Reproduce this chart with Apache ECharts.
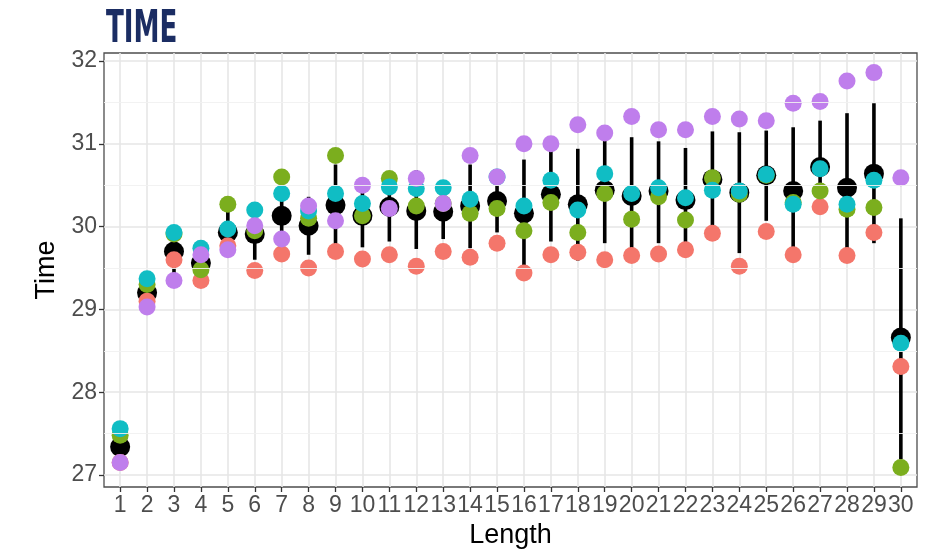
<!DOCTYPE html>
<html>
<head>
<meta charset="utf-8">
<script src="https://cdn.jsdelivr.net/npm/echarts@6/dist/echarts.min.js"></script>
<style>
  html, body { margin: 0; padding: 0; background: #ffffff; }
  #chart { width: 941px; height: 556px; }
</style>
</head>
<body>
<div id="chart"></div>
<script>
// Categories along the x axis (sequence length)
const lengths = [1, 2, 3, 4, 5, 6, 7, 8, 9, 10, 11, 12, 13, 14, 15,
                 16, 17, 18, 19, 20, 21, 22, 23, 24, 25, 26, 27, 28, 29, 30];

// Y axis tick positions
const yTicks = [27, 28, 29, 30, 31, 32];
const yMinorTicks = [27.5, 28.5, 29.5, 30.5, 31.5];

// Time per group
const timeRed = [27.15, 29.10, 29.60, 29.35, 29.77, 29.47, 29.67, 29.50, 29.70, 29.61,
                 29.66, 29.52, 29.70, 29.63, 29.80, 29.44, 29.66, 29.69, 29.60, 29.65,
                 29.67, 29.72, 29.92, 29.52, 29.94, 29.66, 30.24, 29.65, 29.93, 28.31];
const timeGreen = [27.48, 29.30, 29.91, 29.48, 30.27, 29.95, 30.60, 30.10, 30.86, 30.13,
                   30.58, 30.25, 30.28, 30.16, 30.22, 29.95, 30.29, 29.93, 30.40, 30.09,
                   30.36, 30.08, 30.59, 30.39, 30.62, 30.29, 30.43, 30.21, 30.23, 27.09];
const timeCyan = [27.56, 29.37, 29.93, 29.74, 29.97, 30.20, 30.40, 30.19, 30.40, 30.28,
                  30.48, 30.46, 30.47, 30.33, 30.60, 30.25, 30.56, 30.20, 30.64, 30.40,
                  30.47, 30.35, 30.44, 30.43, 30.63, 30.27, 30.70, 30.27, 30.56, 28.59];
const timePurple = [27.15, 29.03, 29.35, 29.66, 29.72, 30.01, 29.85, 30.25, 30.07, 30.50,
                    30.22, 30.58, 30.28, 30.86, 30.60, 31.00, 31.00, 31.23, 31.13, 31.33,
                    31.17, 31.17, 31.33, 31.30, 31.28, 31.49, 31.51, 31.76, 31.86, 30.59];

// Summary: mean with lower / upper bar ends
const timeMean = [27.34, 29.20, 29.70, 29.56, 29.93, 29.91, 30.13, 30.01, 30.26, 30.13,
                  30.24, 30.19, 30.18, 30.25, 30.31, 30.16, 30.39, 30.27, 30.44, 30.37,
                  30.43, 30.32, 30.57, 30.41, 30.62, 30.43, 30.72, 30.47, 30.64, 28.66];
const timeLow = [27.12, 29.05, 29.42, 29.39, 29.68, 29.60, 29.69, 29.66, 29.77, 29.75,
                 29.82, 29.73, 29.85, 29.74, 29.93, 29.51, 29.82, 29.59, 29.80, 29.66,
                 29.80, 29.71, 29.99, 29.68, 30.07, 29.66, 30.16, 29.57, 29.80, 27.19];
const timeHigh = [27.56, 29.37, 29.98, 29.74, 30.18, 30.22, 30.57, 30.36, 30.75, 30.51,
                  30.65, 30.68, 30.51, 30.75, 30.69, 30.81, 30.94, 30.94, 31.08, 31.08,
                  31.03, 30.95, 31.15, 31.14, 31.16, 31.20, 31.28, 31.37, 31.49, 30.10];

const pairs = (vals) => lengths.map((x, i) => [x, vals[i]]);

const labelFont = { fontFamily: '"Liberation Sans", Arial, sans-serif', fontSize: 23, color: '#4d4d4d' };
const titleFont = { fontFamily: '"Liberation Sans", Arial, sans-serif', fontSize: 27, color: '#000000' };
const majorGrid = { color: '#e6e6e6', width: 1.6 };

function dots(name, vals, color, size) {
  return {
    name, type: 'scatter', data: pairs(vals),
    symbol: 'circle', symbolSize: size,
    itemStyle: { color, opacity: 1 },
    silent: true, animation: false
  };
}

const chart = echarts.init(document.getElementById('chart'), null, { renderer: 'canvas' });

chart.setOption({
  backgroundColor: '#ffffff',
  animation: false,
  graphic: [{
    type: 'text',
    x: 106, y: 31,
    scaleX: 0.66,
    style: {
      text: 'TIME',
      font: 'bold 44px "Liberation Sans Narrow", "DejaVu Sans Condensed", "Liberation Sans", sans-serif',
      fill: '#1b2d63',
      align: 'left',
      verticalAlign: 'middle'
    }
  }],
  grid: {
    left: 104, right: 24, top: 53, bottom: 69,
    show: true, borderColor: '#4d4d4d', borderWidth: 1.3, backgroundColor: 'transparent'
  },
  xAxis: {
    type: 'value', min: 0.4, max: 30.6,
    name: 'Length', nameLocation: 'middle', nameGap: 35,
    nameTextStyle: titleFont,
    axisLine: { show: false },
    axisTick: { show: true, length: 5, customValues: lengths, lineStyle: { color: '#333333', width: 1.3 } },
    axisLabel: { ...labelFont, margin: 7, customValues: lengths, formatter: (v) => String(v) },
    splitLine: { show: true, lineStyle: majorGrid }
  },
  yAxis: {
    type: 'value', min: 26.855, max: 32.097,
    name: 'Time', nameLocation: 'middle', nameGap: 44, nameRotate: 90,
    nameTextStyle: titleFont,
    axisLine: { show: false },
    axisTick: { show: true, length: 5, customValues: yTicks, lineStyle: { color: '#333333', width: 1.3 } },
    axisLabel: { ...labelFont, margin: 7, customValues: yTicks },
    splitLine: { show: true, lineStyle: majorGrid }
  },
  series: [
    {
      // minor horizontal grid lines
      type: 'line', data: [], silent: true,
      markLine: {
        silent: true, symbol: 'none', label: { show: false },
        lineStyle: { color: '#f1f1f1', width: 0.9, type: 'solid' },
        data: yMinorTicks.map((v) => ({ yAxis: v }))
      }
    },
    {
      // error bars
      type: 'custom', silent: true,
      data: lengths.map((x, i) => [x, timeLow[i], timeHigh[i]]),
      renderItem: (params, api) => {
        const a = api.coord([api.value(0), api.value(1)]);
        const b = api.coord([api.value(0), api.value(2)]);
        return {
          type: 'line',
          shape: { x1: a[0], y1: a[1], x2: b[0], y2: b[1] },
          style: { stroke: '#000000', lineWidth: 3.6 }
        };
      }
    },
    dots('mean', timeMean, '#000000', 20),
    dots('red', timeRed, '#F4766B', 17),
    dots('green', timeGreen, '#7BAE1E', 17),
    dots('cyan', timeCyan, '#10BDC4', 17),
    dots('purple', timePurple, '#BF7EEC', 17)
  ]
});
</script>
</body>
</html>
